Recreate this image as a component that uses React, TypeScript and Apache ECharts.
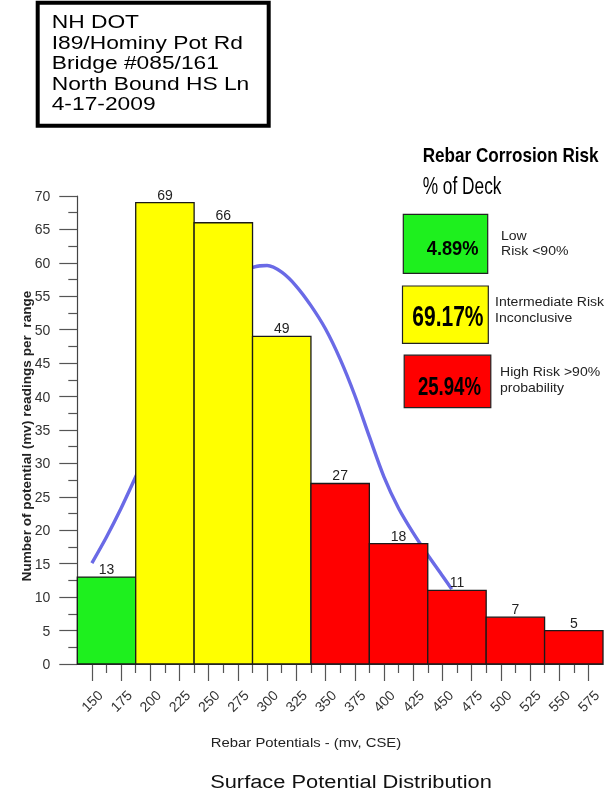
import React, { useEffect, useRef } from "react";
import * as echarts from "echarts";

// ---- data ----
const binStarts = [137.5, 187.5, 237.5, 287.5, 337.5, 387.5, 437.5, 487.5, 537.5];
const binEnds = [187.5, 237.5, 287.5, 337.5, 387.5, 437.5, 487.5, 537.5, 587.5];
const counts = [13, 69, 66, 49, 27, 18, 11, 7, 5];
const binRisk = ["low", "mid", "mid", "mid", "high", "high", "high", "high", "high"];

const xTickLabels = [150, 175, 200, 225, 250, 275, 300, 325, 350, 375, 400, 425, 450, 475, 500, 525, 550, 575];
const xMinorTicks = [162.5, 187.5, 212.5, 237.5, 262.5, 287.5, 312.5, 337.5, 362.5, 387.5, 412.5, 437.5, 462.5, 487.5, 512.5, 537.5, 562.5];

const curveX = [150, 162.5, 175, 187.5, 200, 212.5, 225, 237.5, 250, 262.5, 275, 287.5, 300, 312.5, 325, 337.5, 350, 362.5, 375, 387.5, 400, 412.5, 425, 437.5, 450, 458];
const curveY = [15.1, 19, 23.3, 28, 32.8, 37.8, 42.8, 47.6, 51.9, 55.3, 57.8, 59.3, 59.6, 58.6, 56.5, 53.6, 50.1, 45.6, 40.2, 34, 28, 23.3, 19.6, 16.3, 13.2, 11.2];

const riskPercents = ["4.89%", "69.17%", "25.94%"];
const riskTextLines = [
  ["Low", "Risk <90%"],
  ["Intermediate Risk", "Inconclusive"],
  ["High Risk >90%", "probability"],
];
const headerLines = ["NH DOT", "I89/Hominy Pot Rd", "Bridge #085/161", "North Bound HS Ln", "4-17-2009"];

const riskColors: Record<string, string> = { low: "#1EF01E", mid: "#FFFF00", high: "#FF0000" };
const FONT = "'Liberation Sans', Arial, Helvetica, sans-serif";

export default function App() {
  const ref = useRef<HTMLDivElement>(null);
  useEffect(() => {
    if (!ref.current) return;
    const chart = echarts.init(ref.current, undefined, { renderer: "svg" });

    const barData = binStarts.map((s, i) => [s, binEnds[i], counts[i]]);
    const curveData = curveX.map((x, i) => [x, curveY[i]]);

    const boxColors = [riskColors.low, riskColors.mid, riskColors.high];
    const boxes = [
      { x: 403.3, y: 214.3, w: 84.4, h: 59 },
      { x: 402.5, y: 286, w: 85.8, h: 57.3 },
      { x: 404.2, y: 355.2, w: 86.6, h: 52.5 },
    ];
    const pctStyle = [
      { x: 478.5, y: 247.5, size: 21, sx: 0.87 },
      { x: 483.5, y: 316, size: 30, sx: 0.7 },
      { x: 481, y: 386, size: 25.5, sx: 0.73 },
    ];
    const sideText = [
      { x: 501, y: [236, 251] },
      { x: 495, y: [302, 318] },
      { x: 500, y: [372, 388] },
    ];

    const graphics: any[] = [
      {
        type: "rect",
        shape: { x: 37.7, y: 2.7, width: 231, height: 123 },
        style: { fill: "#fff", stroke: "#000", lineWidth: 4 },
      },
      ...headerLines.map((t, i) => ({
        type: "text",
        x: 51.7,
        y: 21.7 + i * 20.4,
        scaleX: 1.2,
        style: { text: t, fontSize: 19, fontFamily: FONT, fill: "#000", align: "left", verticalAlign: "middle" },
      })),
      {
        type: "text",
        x: 422.7,
        y: 154.5,
        scaleX: 0.815,
        style: { text: "Rebar Corrosion Risk", fontSize: 21, fontWeight: "bold", fontFamily: FONT, fill: "#000", align: "left", verticalAlign: "middle" },
      },
      {
        type: "text",
        x: 422.7,
        y: 185.5,
        scaleX: 0.72,
        style: { text: "% of Deck", fontSize: 24, fontFamily: FONT, fill: "#000", align: "left", verticalAlign: "middle" },
      },
      ...boxes.map((b, i) => ({
        type: "rect",
        shape: { x: b.x, y: b.y, width: b.w, height: b.h },
        style: { fill: boxColors[i], stroke: "#222", lineWidth: 1.2 },
      })),
      ...pctStyle.map((p, i) => ({
        type: "text",
        x: p.x,
        y: p.y,
        scaleX: p.sx,
        style: { text: riskPercents[i], fontSize: p.size, fontWeight: "bold", fontFamily: FONT, fill: "#000", align: "right", verticalAlign: "middle" },
      })),
      ...sideText.flatMap((s, i) =>
        riskTextLines[i].map((t, j) => ({
          type: "text",
          x: s.x,
          y: s.y[j],
          scaleX: 1.08,
          style: { text: t, fontSize: 13, fontFamily: FONT, fill: "#222", align: "left", verticalAlign: "middle" },
        }))
      ),
      {
        type: "text",
        x: 26,
        y: 436,
        rotation: Math.PI / 2,
        style: { text: "Number of potential (mv) readings per  range", fontSize: 13.6, fontWeight: "bold", fontFamily: FONT, fill: "#222", align: "center", verticalAlign: "middle" },
      },
      {
        type: "text",
        x: 306,
        y: 742,
        scaleX: 1.1,
        style: { text: "Rebar Potentials - (mv, CSE)", fontSize: 13.5, fontFamily: FONT, fill: "#222", align: "center", verticalAlign: "middle" },
      },
      {
        type: "text",
        x: 351,
        y: 781,
        scaleX: 1.15,
        style: { text: "Surface Potential Distribution", fontSize: 19, fontFamily: FONT, fill: "#111", align: "center", verticalAlign: "middle" },
      },
    ];

    const axisColor = "#444";

    chart.setOption({
      animation: false,
      textStyle: { fontFamily: FONT },
      grid: { left: 77.3, right: 2, top: 196, bottom: 132, containLabel: false },
      xAxis: [
        {
          type: "value",
          min: 137.5,
          max: 587.5,
          position: "bottom",
          axisLine: { show: true, onZero: false, lineStyle: { color: axisColor, width: 1 } },
          axisTick: { show: true, length: 17, customValues: xTickLabels, lineStyle: { color: "#555", width: 1.2 } },
          axisLabel: {
            show: true,
            customValues: xTickLabels,
            rotate: 45,
            align: "center",
            verticalAlign: "middle",
            margin: 37,
            fontSize: 14,
            color: "#333",
            fontFamily: FONT,
          },
          splitLine: { show: false },
        },
        {
          type: "value",
          min: 137.5,
          max: 587.5,
          position: "bottom",
          axisLine: { show: false },
          axisTick: { show: true, length: 9, customValues: xMinorTicks, lineStyle: { color: "#555", width: 1.2 } },
          axisLabel: { show: false },
          splitLine: { show: false },
        },
      ],
      yAxis: {
        type: "value",
        min: 0,
        max: 70,
        interval: 5,
        axisLine: { show: true, lineStyle: { color: axisColor, width: 1.2 } },
        axisTick: { show: true, length: 18, lineStyle: { color: "#555", width: 1.2 } },
        minorTick: { show: true, splitNumber: 2, length: 9, lineStyle: { color: "#555", width: 1.2 } },
        axisLabel: { fontSize: 14, color: "#333", margin: 27, fontFamily: FONT },
        splitLine: { show: false },
        minorSplitLine: { show: false },
      },
      graphic: { elements: graphics },
      series: [
        {
          type: "line",
          data: curveData,
          smooth: 0.3,
          symbol: "none",
          z: 1,
          lineStyle: { color: "#6A6AE6", width: 3.4 },
          silent: true,
        },
        {
          type: "custom",
          z: 3,
          data: barData,
          encode: { x: [0, 1], y: 2 },
          renderItem: (params: any, api: any) => {
            const x0 = api.value(0);
            const x1 = api.value(1);
            const v = api.value(2);
            const pTop = api.coord([x0, v]);
            const pBot = api.coord([x1, 0]);
            const color = riskColors[binRisk[params.dataIndex]];
            return {
              type: "group",
              children: [
                {
                  type: "rect",
                  shape: { x: pTop[0], y: pTop[1], width: pBot[0] - pTop[0], height: pBot[1] - pTop[1] },
                  style: { fill: color, stroke: "#1a1a1a", lineWidth: 1.3 },
                },
                {
                  type: "text",
                  x: (pTop[0] + pBot[0]) / 2,
                  y: pTop[1] - 8,
                  style: { text: String(v), fontSize: 14, fontFamily: FONT, fill: "#222", align: "center", verticalAlign: "middle" },
                },
              ],
            };
          },
        },
      ],
    });
    return () => chart.dispose();
  }, []);
  return <div ref={ref} style={{ position: "fixed", left: 0, top: 0, width: 605, height: 796 }} />;
}
